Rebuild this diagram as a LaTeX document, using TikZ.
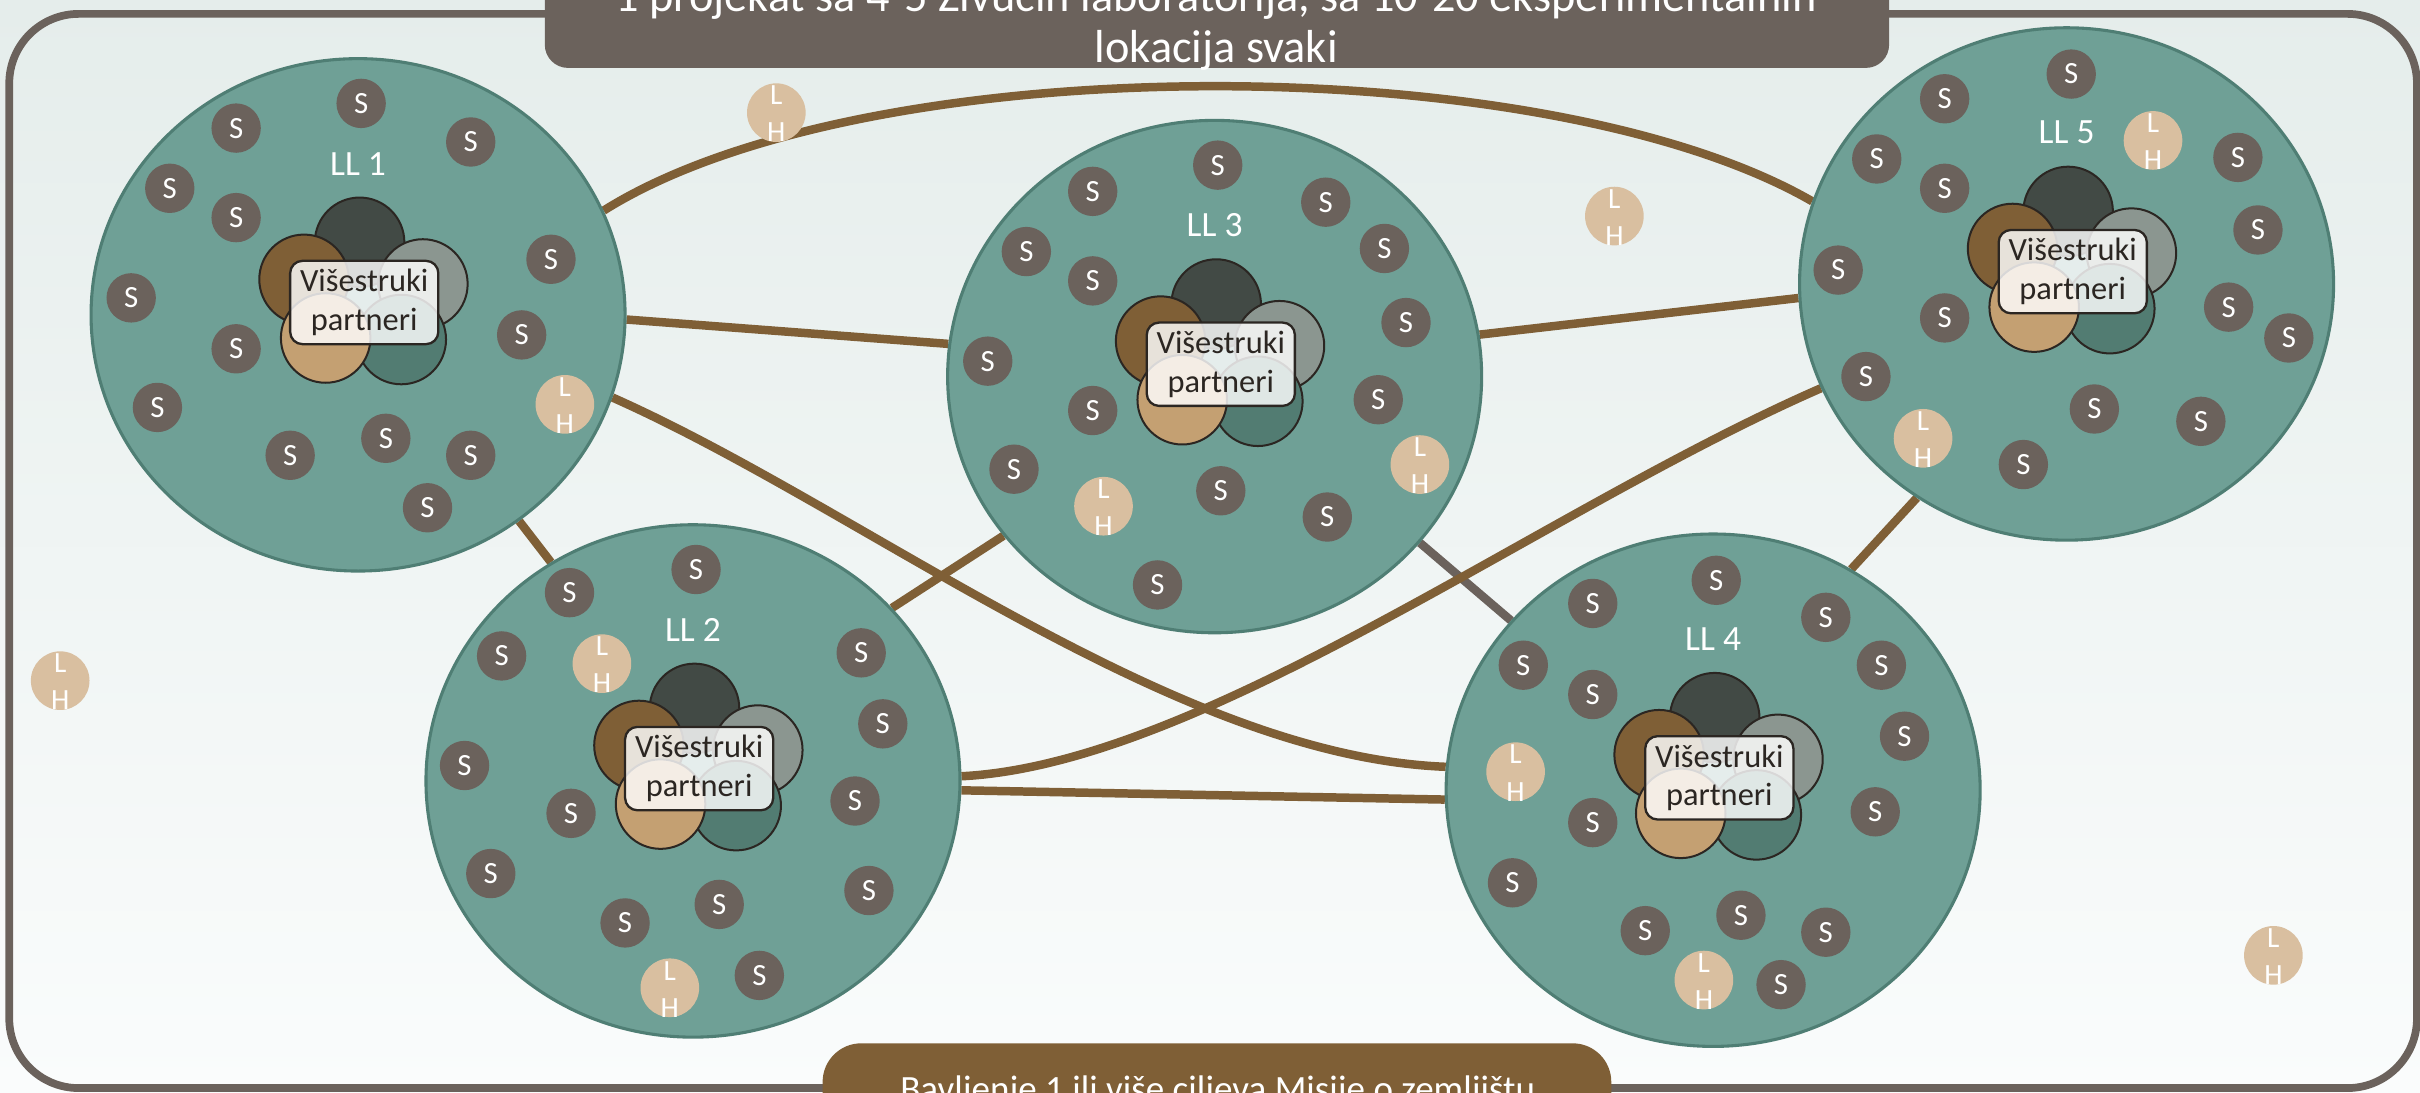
\documentclass[tikz,border=0pt]{standalone}
\usepackage{fontspec}
\setmainfont{Carlito}
\usetikzlibrary{shapes.geometric,backgrounds}
\definecolor{framec}{HTML}{6B625C}
\definecolor{brownc}{HTML}{7F5F36}
\definecolor{tealc}{HTML}{6FA096}
\definecolor{tealb}{HTML}{4F7E74}
\definecolor{lhc}{HTML}{D9BFA0}
\definecolor{darkc}{HTML}{424A45}
\definecolor{grayc}{HTML}{8B9690}
\definecolor{tanc}{HTML}{C4A072}
\definecolor{dteal}{HTML}{527C72}
\definecolor{inkc}{HTML}{2B2622}
\definecolor{bgtop}{HTML}{E5EDEB}
\definecolor{bgbot}{HTML}{FAFCFC}
\tikzset{
  bigc/.style={ellipse, fill=tealc, draw=tealb, line width=2pt, minimum width=346pt, minimum height=332pt, inner sep=0pt},
  petal/.style={circle, draw=inkc, line width=1.3pt, minimum size=58pt, inner sep=0pt},
  pbox/.style={rectangle, rounded corners=8pt, fill=white, fill opacity=0.82, text opacity=1, draw=inkc, draw opacity=1, line width=1.5pt, minimum width=96pt, minimum height=54pt, align=center, text=inkc, font=\fontsize{21}{25}\selectfont, inner sep=0pt},
  lltext/.style={text=white, font=\fontsize{23}{25}\selectfont, inner sep=0pt},
  snode/.style={circle, fill=framec, text=white, minimum size=32pt, inner sep=0pt, font=\fontsize{20}{20}\selectfont},
  lhnode/.style={circle, fill=lhc, minimum size=38pt, inner sep=0pt},
  lhtext/.style={text=white, font=\fontsize{19}{19}\selectfont, inner sep=0pt, anchor=base},
  conn/.style={draw=brownc, line width=5.5pt},
  conng/.style={draw=framec, line width=5.5pt},
  titlebox/.style={rectangle, rounded corners=15pt, fill=framec, minimum width=871pt, minimum height=84pt, inner sep=0pt},
  goalbox/.style={rectangle, rounded corners=25pt, fill=brownc, minimum width=511pt, minimum height=68pt, inner sep=0pt},
  bigtext/.style={text=white, inner sep=0pt, anchor=base},
}
\begin{document}
\begin{tikzpicture}[x=1pt,y=-1pt]
\useasboundingbox (0,0) rectangle (1568,708);
\begin{scope}[on background layer]
  \shade[top color=bgtop, bottom color=bgbot] (0pt,0pt) rectangle (1568pt,-708pt);
\end{scope}
% frame
\node[rectangle, draw=framec, line width=5pt, rounded corners=45pt, minimum width=1560pt, minimum height=696pt, inner sep=0pt] (frame) at (786,357) {};
% big circles with content
\foreach \n/\cx/\cy in {1/232/204, 2/449/506, 3/787/244, 4/1110/512, 5/1339/184}{
  \node[bigc] (ll\n) at (\cx,\cy) {};
  \node[lltext] (lab\n) at (\cx,\cy-98) {LL \n};
  \node[petal, fill=darkc] (pa\n) at (\cx+1,\cy-47) {};
  \node[petal, fill=brownc] (pb\n) at (\cx-35,\cy-23) {};
  \node[petal, fill=grayc] (pc\n) at (\cx+42,\cy-20) {};
  \node[petal, fill=dteal] (pd\n) at (\cx+28,\cy+16) {};
  \node[petal, fill=tanc] (pe\n) at (\cx-21,\cy+15) {};
  \node[pbox] (box\n) at (\cx+4,\cy-8) {Višestruki\\partneri};
}
% connectors
\begin{scope}[on background layer]
  \draw[conn] (ll1.23) .. controls (560,30) and (1000,30) .. (ll5.162);
  \draw[conn] (ll1.-1) -- (ll3.173);
  \draw[conn] (ll1.-18) .. controls (560,330) and (760,490) .. (ll4.175);
  \draw[conn] (ll1.-52) -- (ll2.123);
  \draw[conn] (ll2.41) -- (ll3.217);
  \draw[conng] (ll3.-39) -- (ll4.140);
  \draw[conn] (ll2.1) .. controls (780,495) and (1000,330) .. (ll5.203);
  \draw[conn] (ll2.-2) -- (ll4.182);
  \draw[conn] (ll3.9) -- (ll5.183);
  \draw[conn] (ll4.58) -- (ll5.235);
\end{scope}
% S nodes
\foreach \x/\y [count=\k] in {153/83, 234/67, 305/92, 110/122, 153/141, 357/168, 85/193, 338/217, 153/226, 102/264, 250/284, 188/295, 305/295, 277/329,
  369/384, 451/369, 325/425, 558/423, 572/469, 301/496, 554/519, 370/527, 318/566, 563/577, 466/586, 405/598, 492/632,
  789/107, 708/124, 859/131, 665/163, 897/161, 708/182, 911/209, 640/234, 708/266, 893/259, 657/304, 791/318, 860/335, 750/379,
  1112/376, 1032/391, 1183/400, 987/431, 1219/431, 1032/450, 1234/477, 1215/526, 1032/533, 980/572, 1066/603, 1128/593, 1183/604, 1154/638,
  1342/48, 1260/64, 1216/103, 1450/102, 1260/122, 1463/149, 1191/175, 1444/199, 1260/206, 1483/219, 1209/244, 1357/265, 1426/273, 1311/301}{
  \node[snode] (s\k) at (\x,\y) {S};
}
% L/H nodes
\foreach \x/\y [count=\k] in {366/262, 390/430, 434/640, 715/328, 920/301, 982/500, 1104/635, 1395/91, 1246/284, 503/73, 1046/140, 39/441, 1473/619}{
  \node[lhnode] (lh\k) at (\x,\y) {};
  \node[lhtext] (lhl\k) at (\x,\y-5) {L};
  \node[lhtext] (lhh\k) at (\x,\y+19) {H};
}
% title boxes
\node[titlebox] (title) at (788.5,2) {};
\node[bigtext, font=\fontsize{30}{32}\selectfont] (t1) at (788,7.5) {1 projekat sa 4-5 Živućih laboratorija, sa 10-20 eksperimentalnih};
\node[bigtext, font=\fontsize{30}{32}\selectfont] (t2) at (788,40.6) {lokacija svaki};
\node[goalbox] (goal) at (788.5,710) {};
\node[bigtext, font=\fontsize{24}{26}\selectfont] (g1) at (789,714) {Bavljenje 1 ili više ciljeva Misije o zemljištu};
\end{tikzpicture}
\end{document}
